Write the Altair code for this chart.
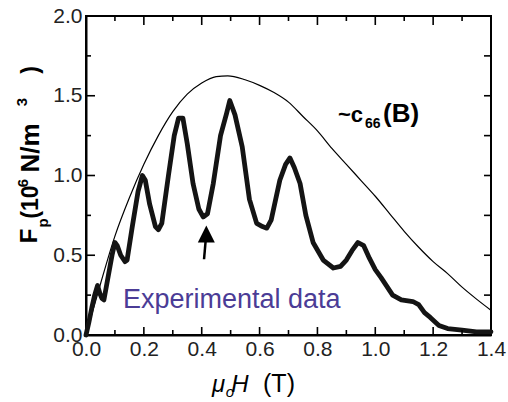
import altair as alt
import pandas as pd

# ---------------- data ----------------
exp_field = [0.000, 0.010, 0.020, 0.030, 0.040, 0.048, 0.055, 0.062, 0.075, 0.090,
             0.100, 0.108, 0.120, 0.135, 0.142, 0.160, 0.180, 0.195, 0.205, 0.220,
             0.240, 0.250, 0.262, 0.285, 0.305, 0.320, 0.335, 0.350, 0.370, 0.390,
             0.405, 0.420, 0.440, 0.465, 0.486, 0.497, 0.515, 0.540, 0.565, 0.590,
             0.610, 0.625, 0.640, 0.670, 0.690, 0.705, 0.720, 0.740, 0.760, 0.785,
             0.820, 0.855, 0.880, 0.900, 0.920, 0.940, 0.960, 0.980, 1.000, 1.020,
             1.060, 1.090, 1.130, 1.150, 1.170, 1.190, 1.220, 1.250, 1.300, 1.350,
             1.400]
exp_fp = [0.00, 0.08, 0.17, 0.25, 0.31, 0.26, 0.23, 0.22, 0.35, 0.50,
          0.58, 0.56, 0.50, 0.46, 0.47, 0.68, 0.90, 1.00, 0.97, 0.82,
          0.68, 0.66, 0.70, 1.00, 1.25, 1.36, 1.36, 1.20, 0.95, 0.79,
          0.74, 0.76, 0.95, 1.25, 1.39, 1.47, 1.38, 1.18, 0.85, 0.70,
          0.68, 0.67, 0.72, 0.97, 1.07, 1.11, 1.05, 0.95, 0.75, 0.58,
          0.47, 0.42, 0.43, 0.47, 0.53, 0.58, 0.56, 0.48, 0.41, 0.36,
          0.25, 0.22, 0.21, 0.19, 0.14, 0.11, 0.06, 0.04, 0.03, 0.02,
          0.02]

c66_field = [0.00, 0.02, 0.05, 0.10, 0.15, 0.20, 0.25, 0.30, 0.35, 0.40,
             0.45, 0.49, 0.55, 0.60, 0.65, 0.70, 0.75, 0.80, 0.85, 0.90,
             0.95, 1.00, 1.05, 1.10, 1.15, 1.20, 1.25, 1.30, 1.35, 1.40]
c66_fp = [0.00, 0.13, 0.32, 0.62, 0.86, 1.07, 1.25, 1.40, 1.51, 1.58,
          1.62, 1.625, 1.60, 1.565, 1.52, 1.46, 1.37, 1.28, 1.17, 1.07,
          0.97, 0.87, 0.76, 0.65, 0.55, 0.46, 0.385, 0.30, 0.225, 0.155]

x_major = [0.0, 0.2, 0.4, 0.6, 0.8, 1.0, 1.2, 1.4]
x_minor = [0.1, 0.3, 0.5, 0.7, 0.9, 1.1, 1.3]
y_major = [0.0, 0.5, 1.0, 1.5, 2.0]
y_minor = [0.25, 0.75, 1.25, 1.75]
y_all = [0.25, 0.5, 0.75, 1.0, 1.25, 1.5, 1.75]

# arrow annotation (data coordinates)
arrow_tail = (0.408, 0.475)
arrow_neck = (0.414, 0.60)
arrow_head = (0.416, 0.634)

# ---------------- layout ----------------
W, H = 405, 319
FONT = "Liberation Sans"

xs = alt.Scale(domain=[0, 1.4], nice=False, zero=False)
ys = alt.Scale(domain=[0, 2], nice=False)

x_axis = alt.Axis(values=x_major, format=".1f", ticks=False, grid=False,
                  labelFlush=False, labelPadding=3, labelFontSize=21,
                  labelFont=FONT, labelColor="#222", domainColor="black",
                  domainWidth=2, title=None)
y_axis = alt.Axis(values=y_major, format=".1f", ticks=False, grid=False,
                  labelFlush=False, labelPadding=4, labelFontSize=21,
                  labelFont=FONT, labelColor="#222", domainColor="black",
                  domainWidth=2, title=None)


def X(field="x"):
    return alt.X(f"{field}:Q", scale=xs, axis=x_axis, title=None)


def Y(field="y"):
    return alt.Y(f"{field}:Q", scale=ys, axis=y_axis, title=None)


exp_df = pd.DataFrame({"x": exp_field, "y": exp_fp})
c66_df = pd.DataFrame({"x": c66_field, "y": c66_fp})

exp_line = alt.Chart(exp_df).mark_line(
    color="#141414", strokeWidth=4.8, strokeJoin="round", strokeCap="round"
).encode(x=X(), y=Y())

c66_line = alt.Chart(c66_df).mark_line(
    color="black", strokeWidth=1.2, interpolate="monotone"
).encode(x=X(), y=Y())

# inward ticks
def xticks(vals, y0, y1):
    return alt.Chart(pd.DataFrame({"x": vals})).mark_rule(
        color="black", strokeWidth=1.6
    ).encode(x=X(), y=alt.value(y0), y2=alt.value(y1))


def yticks(vals, x0, x1):
    return alt.Chart(pd.DataFrame({"y": vals})).mark_rule(
        color="black", strokeWidth=1.6
    ).encode(y=Y(), x=alt.value(x0), x2=alt.value(x1))


tick_layers = [
    xticks(x_major[1:-1], H, H - 8),
    xticks(x_minor, H, H - 5),
    xticks(x_major[1:-1], 0, 9),
    xticks(x_minor, 0, 5),
    yticks(y_major[1:-1], 0, 9),
    yticks(y_minor, 0, 5),
    yticks(y_all, W, W - 7),
]

# arrow
arrow_df = pd.DataFrame({"x": [arrow_tail[0]], "y": [arrow_tail[1]],
                         "x2": [arrow_neck[0]], "y2": [arrow_neck[1]]})
arrow_shaft = alt.Chart(arrow_df).mark_rule(color="black", strokeWidth=2.5).encode(
    x=X(), y=Y(), x2="x2:Q", y2="y2:Q")
head_df = pd.DataFrame({"x": [arrow_head[0]], "y": [arrow_head[1]]})
arrow_tip = alt.Chart(head_df).mark_point(
    shape="M0,-1L1,1L-1,1Z", filled=True, size=289, color="black", opacity=1
).encode(x=X(), y=Y())


def txt(text, x, y, size, **kw):
    return alt.Chart(alt.Data(values=[{"t": text}])).mark_text(
        font=kw.pop("font", FONT), fontSize=size, **kw
    ).encode(x=alt.value(x), y=alt.value(y), text="t:N")


rot = dict(angle=270, fontWeight="bold", align="center", baseline="middle")
labels = [
    # y title, rotated
    txt("F", -56, 220, 24, **rot),
    txt("p", -43, 207, 15, **rot),
    txt("(10", -55, 186, 23, **rot),
    txt("6", -63, 167, 15, **rot),
    txt("N/m", -55, 132, 26, **rot),
    txt("3", -64, 86, 15, **rot),
    txt(")", -55, 54, 23, **rot),
    # x title
    txt("μ", 132.5, 376, 24, fontStyle="italic", align="center", baseline="alphabetic"),
    txt("o", 144, 381, 15, fontStyle="italic", align="center", baseline="alphabetic"),
    txt("H", 154, 376, 24, fontStyle="italic", align="center", baseline="alphabetic"),
    txt("(T)", 193, 376, 25, align="center", baseline="alphabetic"),
    # c66 label
    txt("~c", 252, 106, 22, fontWeight="bold", align="left", baseline="alphabetic"),
    txt("66", 279, 112, 14, fontWeight="bold", align="left", baseline="alphabetic"),
    txt("(B)", 297, 106, 26, fontWeight="bold", align="left", baseline="alphabetic"),
    # experimental data label
    txt("Experimental data", 37, 292, 27, color="#4b3c96", align="left", baseline="alphabetic"),
]

chart = alt.layer(
    c66_line, exp_line, *tick_layers, arrow_shaft, arrow_tip, *labels
).properties(
    width=W, height=H,
    autosize=alt.AutoSizeParams(type="none"),
    padding={"left": 86, "top": 16, "right": 17, "bottom": 67},
    background="white",
).configure_view(stroke="black", strokeWidth=2)

chart.save("out.html", embed_options={"renderer": "svg", "actions": False})
